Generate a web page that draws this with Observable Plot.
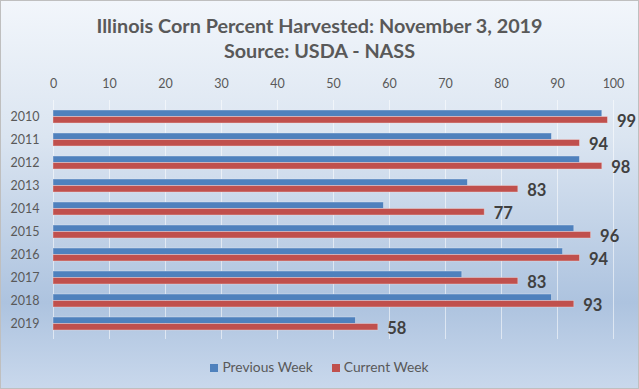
<!DOCTYPE html>
<html>
<head>
<meta charset="utf-8">
<script src="https://cdn.jsdelivr.net/npm/d3@7"></script>
<script src="https://cdn.jsdelivr.net/npm/@observablehq/plot@0.6"></script>
<style>
  html, body { margin: 0; padding: 0; }
  body { width: 639px; height: 389px; overflow: hidden; font-family: Lato, "Open Sans", sans-serif; }
  #chart {
    position: relative;
    width: 637px; height: 387px;
    border: 1px solid #bfbfbf;
    background: linear-gradient(to bottom, #f2f6fb 0%, #dbe5f1 35%, #adc3df 78%, #c9d8ec 100%);
  }
  #title {
    color: #595959; font-weight: bold; font-size: 19.8px; line-height: 25px;
    text-align: center; padding-top: 12px; height: 50px;
  }
  #plot svg { display: block; background: transparent; }
  #legend {
    display: flex; justify-content: center; gap: 19px;
    font-size: 13.8px; color: #595959; line-height: 16px; padding-top: 16px;
  }
  #legend span.sw { display: inline-block; width: 8px; height: 8px; margin-right: 4px; vertical-align: 0px; }
</style>
</head>
<body>
<div id="chart">
  <div id="title"></div>
  <div id="plot"></div>
  <div id="legend"></div>
</div>
<script>
const titleLines = ["Illinois Corn Percent Harvested: November 3, 2019", "Source: USDA - NASS"];
const years = ["2010", "2011", "2012", "2013", "2014", "2015", "2016", "2017", "2018", "2019"];
const previousWeek = [98, 89, 94, 74, 59, 93, 91, 73, 89, 54];
const currentWeek = [99, 94, 98, 83, 77, 96, 94, 83, 93, 58];
const seriesNames = ["Previous Week", "Current Week"];
const seriesColors = ["#4f81bd", "#c0504d"];
const xTicks = [0, 10, 20, 30, 40, 50, 60, 70, 80, 90, 100];

const rows = years.map((y, i) => ({year: y, prev: previousWeek[i], cur: currentWeek[i]}));

document.getElementById("title").innerHTML = titleLines.map(t => `<div>${t}</div>`).join("");

const H = 280;
const bw = 23.8 * 0.55;
const chart = Plot.plot({
  width: 637,
  height: H,
  marginTop: 37,
  marginBottom: 4,
  marginLeft: 52,
  marginRight: 25,
  style: {background: "transparent", fontFamily: "Lato, 'Open Sans', sans-serif", color: "#595959", overflow: "visible"},
  x: {domain: [0, 100], axis: null},
  y: {domain: years, type: "band", paddingInner: 0.45, paddingOuter: 0.25, axis: null},
  marks: [
    Plot.gridX(xTicks, {stroke: "#ffffff", strokeOpacity: 0.55, strokeWidth: 1}),
    Plot.axisX(xTicks, {anchor: "top", tickSize: 0, tickPadding: 13, fontSize: 12.5, fill: "#595959", label: null, tickFormat: d => String(d)}),
    Plot.axisY({anchor: "left", tickSize: 0, tickPadding: 14, fontSize: 12.5, fill: "#595959", label: null}),
    Plot.barX(rows, {x: "prev", y: "year", fill: seriesColors[0], insetBottom: bw / 2, stroke: "#e8eef8", strokeOpacity: 0.5, strokeWidth: 0.8}),
    Plot.barX(rows, {x: "cur", y: "year", fill: seriesColors[1], insetTop: bw / 2, stroke: "#f3dede", strokeOpacity: 0.5, strokeWidth: 0.8}),
    Plot.text(rows, {x: "cur", y: "year", text: d => String(d.cur), dx: 9, dy: bw / 4 + 1.5, textAnchor: "start", fontSize: 16.5, fontWeight: "bold", fill: "#404040"})
  ]
});
document.getElementById("plot").appendChild(chart);

document.getElementById("legend").innerHTML = seriesNames.map((n, i) =>
  `<div><span class="sw" style="background:${seriesColors[i]}"></span>${n}</div>`).join("");
</script>
</body>
</html>
